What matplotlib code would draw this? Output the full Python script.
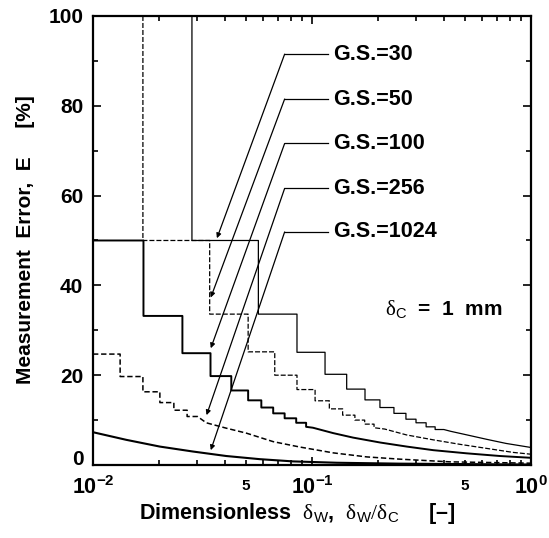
import matplotlib
matplotlib.use("Agg")
import matplotlib.pyplot as plt
from matplotlib.ticker import FixedLocator, FuncFormatter, MultipleLocator

plt.rcParams["font.family"] = ["Liberation Sans", "DejaVu Sans"]
plt.rcParams["mathtext.fontset"] = "custom"
plt.rcParams["mathtext.rm"] = "Liberation Serif"
plt.rcParams["mathtext.sf"] = "Liberation Sans"
plt.rcParams["mathtext.bf"] = "Liberation Sans:bold"

# step edges (x where a new level starts) and the level that follows, E [%]
edges_30 = [0.0283, 0.0283, 0.0569, 0.0854, 0.1147, 0.144, 0.1746, 0.2043,
            0.2367, 0.2685, 0.2985, 0.332, 0.365]
levels_30 = [100, 50.0, 33.6, 25.1, 20.2, 16.9, 14.5, 12.8, 11.5, 10.2, 9.4, 8.5, 7.9]
tail_x_30 = [0.40, 0.43, 0.51, 0.63, 0.77, 1.0]
tail_y_30 = [7.9, 7.5, 6.7, 5.7, 4.8, 3.9]

edges_50 = [0.0169, 0.0169, 0.0341, 0.0511, 0.0676, 0.0854, 0.1033, 0.120,
            0.138, 0.157, 0.174, 0.192]
levels_50 = [100, 50.0, 33.6, 25.2, 20.0, 16.8, 14.3, 12.5, 11.1, 10.0, 9.1, 8.3]
tail_x_50 = [0.215, 0.270, 0.358, 0.474, 0.627, 0.830, 1.0]
tail_y_50 = [8.0, 6.7, 5.6, 4.6, 3.7, 2.8, 2.4]

edges_100 = [0.01, 0.0170, 0.0256, 0.0344, 0.0428, 0.0511, 0.0587, 0.0665,
             0.075, 0.0847, 0.094]
levels_100 = [50.0, 33.2, 24.9, 19.8, 16.6, 14.4, 12.8, 11.5, 10.4, 9.4, 8.5]
tail_x_100 = [0.101, 0.125, 0.154, 0.205, 0.271, 0.358, 0.508, 0.722, 1.0]
tail_y_100 = [8.3, 7.1, 6.1, 5.0, 4.1, 3.3, 2.6, 2.0, 1.6]

edges_256 = [0.01, 0.0133, 0.0169, 0.0202, 0.0234, 0.0269]
levels_256 = [24.7, 19.7, 16.3, 13.9, 12.2, 10.8]
tail_x_256 = [0.0300, 0.0329, 0.0406, 0.0501, 0.0665, 0.088, 0.125, 0.178,
              0.252, 0.427, 1.0]
tail_y_256 = [10.8, 9.4, 8.2, 7.1, 5.2, 4.0, 2.7, 1.8, 1.3, 0.7, 0.4]

edges_1024 = [0.01]
levels_1024 = [7.3]
tail_x_1024 = [0.0142, 0.0202, 0.0286, 0.0406, 0.0577, 0.0819, 0.13, 0.25, 0.5, 1.0]
tail_y_1024 = [5.6, 4.1, 3.0, 2.0, 1.3, 0.8, 0.5, 0.3, 0.2, 0.1]

# leader labels and where their arrows end
gs_labels = ["G.S.=30", "G.S.=50", "G.S.=100", "G.S.=256", "G.S.=1024"]
label_E = [91.5, 81.5, 71.6, 61.6, 51.9]
tip_x = [0.0368, 0.0345, 0.0345, 0.0330, 0.0345]
tip_E = [50.5, 37.3, 26.0, 11.1, 3.3]


def staircase(edges, levels, tail_x, tail_y):
    xs, ys = [], []
    for i, (e, lev) in enumerate(zip(edges, levels)):
        if i:
            xs.append(e)
            ys.append(levels[i - 1])
        xs.append(e)
        ys.append(lev)
    return xs + list(tail_x), ys + list(tail_y)


fig = plt.figure(figsize=(5.49, 5.38), dpi=100)
ax = fig.add_axes([0.1694, 0.1357, 0.7978, 0.8346])

curves = [
    (edges_30, levels_30, tail_x_30, tail_y_30, dict(lw=0.9)),
    (edges_50, levels_50, tail_x_50, tail_y_50, dict(lw=0.9, dashes=(4, 1.6))),
    (edges_100, levels_100, tail_x_100, tail_y_100, dict(lw=1.4)),
    (edges_256, levels_256, tail_x_256, tail_y_256, dict(lw=1.1, dashes=(3.5, 1.8))),
    (edges_1024, levels_1024, tail_x_1024, tail_y_1024, dict(lw=1.5)),
]
for edges, levels, tx, ty, style in curves:
    xs, ys = staircase(edges, levels, tx, ty)
    ax.plot(xs, ys, color="black", solid_capstyle="butt", **style)

corner_x = 0.075
line_end_x = 0.1187
text_x = 0.1247
for name, ly, tx, te in zip(gs_labels, label_E, tip_x, tip_E):
    ax.plot([corner_x, line_end_x], [ly, ly], color="black", lw=0.9)
    ax.annotate("", xy=(tx, te), xytext=(corner_x, ly),
                arrowprops=dict(arrowstyle="-|>", color="black", lw=0.9,
                                mutation_scale=7, shrinkA=0, shrinkB=0))
    ax.text(text_x, ly, name, fontsize=15.5, fontweight="bold",
            ha="left", va="center")

ax.text(0.215, 34.5, r"$\mathrm{\delta}_{\mathsf{C}}$  =  1  mm", fontsize=15,
        fontweight="bold", ha="left", va="center")

ax.set_xscale("log")
ax.set_xlim(0.01, 1.0)
ax.set_ylim(0, 100)

ax.xaxis.set_major_locator(FixedLocator([0.01, 0.1, 1.0]))
ax.set_xticklabels([r"$\mathbf{10^{-2}}$", r"$\mathbf{10^{-1}}$", r"$\mathbf{10^{0}}$"])
minor_x = [k * 10.0 ** p for p in (-2, -1) for k in range(2, 10)]
ax.xaxis.set_minor_locator(FixedLocator(minor_x))
ax.xaxis.set_minor_formatter(FuncFormatter(
    lambda v, pos: "5" if abs(v / 0.05 - 1) < 1e-6 or abs(v / 0.5 - 1) < 1e-6 else ""))

ax.set_yticks([0, 20, 40, 60, 80, 100])
ax.yaxis.set_minor_locator(MultipleLocator(10))

ax.tick_params(which="both", direction="in", top=True, right=True, width=1.2)
ax.tick_params(which="major", length=5.5)
ax.tick_params(which="minor", length=3.5)
ax.tick_params(axis="x", which="major", labelsize=15.5, pad=8)
ax.tick_params(axis="x", which="minor", labelsize=11, pad=10)
ax.tick_params(axis="y", which="major", labelsize=15, pad=7)
for lab in ax.get_yticklabels() + ax.get_xticklabels(minor=True):
    lab.set_fontweight("bold")
# nudge the zero label up a touch so it clears the 10^-2 label
zero_lab = ax.get_yticklabels()[0]
zero_lab.set_va("baseline")
zero_lab.set_y(0.6)

for sp in ax.spines.values():
    sp.set_linewidth(1.6)

fig.text(0.046, 0.554, "Measurement  Error,  E     [%]", rotation=90,
         fontsize=15, fontweight="bold", ha="center", va="center")
fig.text(0.542, 0.046,
         r"Dimensionless  $\mathrm{\delta}_{\mathsf{W}}$,  "
         r"$\mathrm{\delta}_{\mathsf{W}}/\mathrm{\delta}_{\mathsf{C}}$     [–]",
         fontsize=15.5, fontweight="bold", ha="center", va="center")

fig.savefig("out.png", dpi=100)
